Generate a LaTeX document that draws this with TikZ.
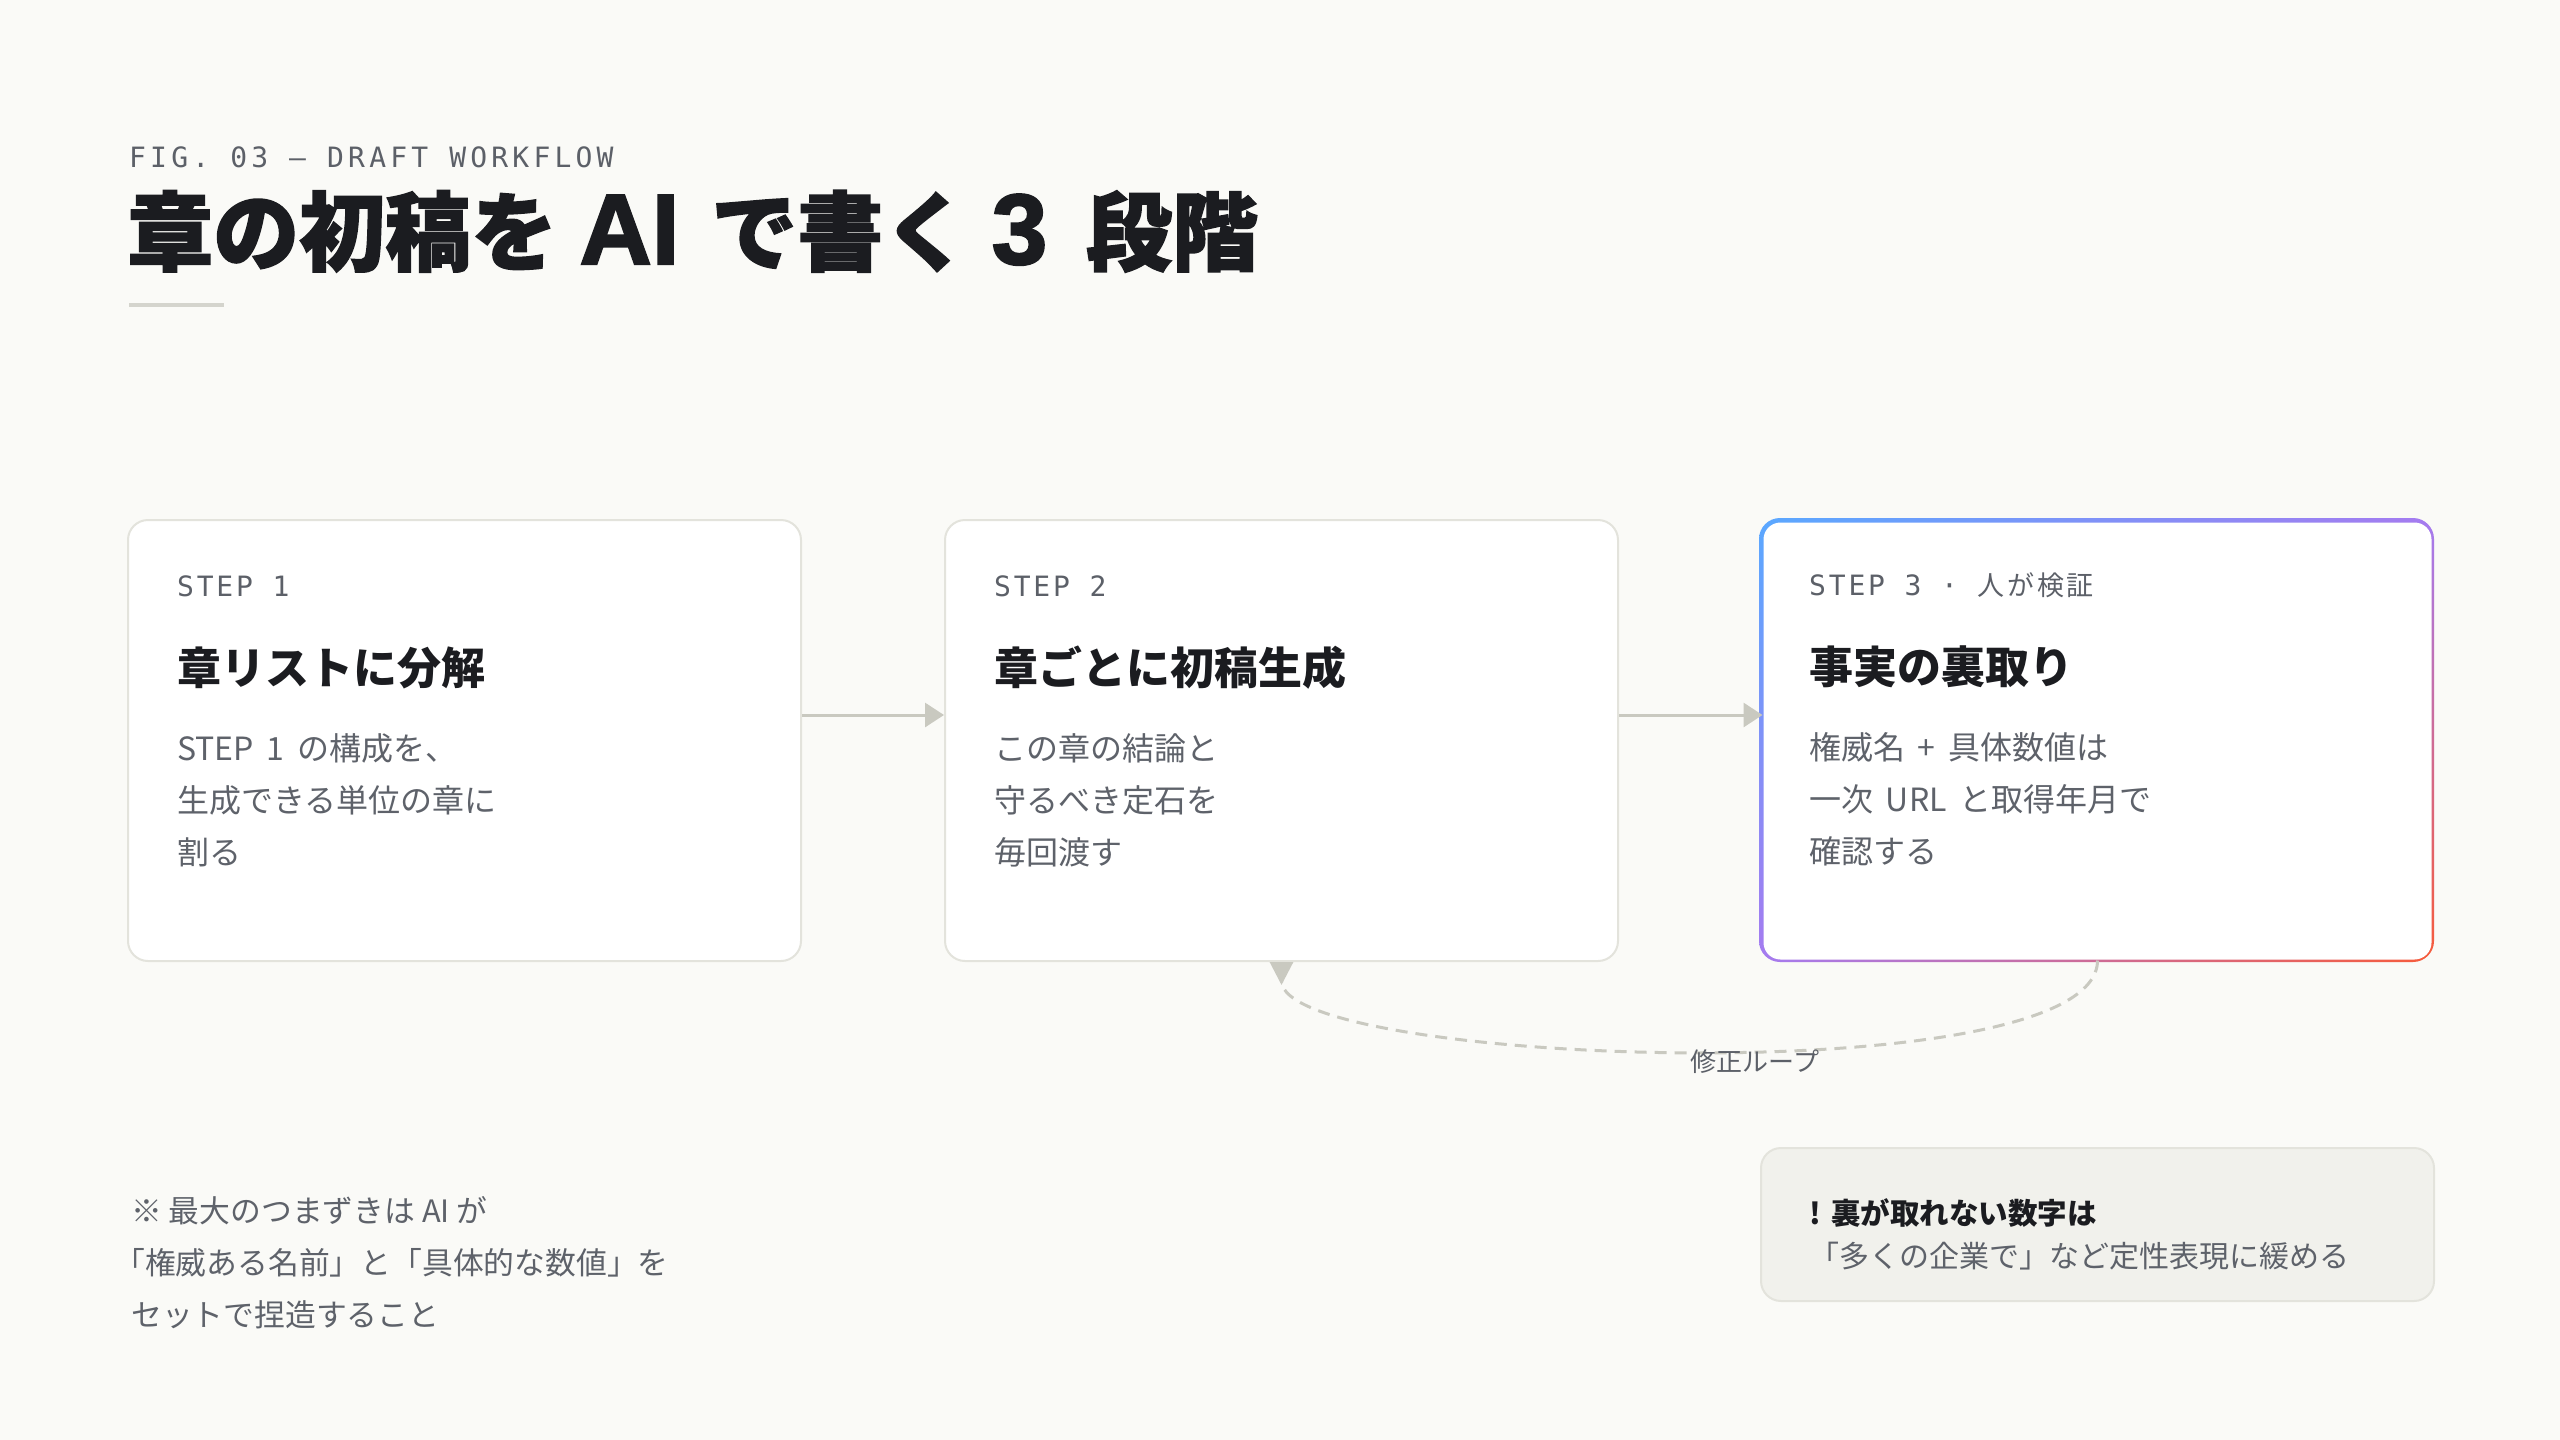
\documentclass[tikz,border=0pt]{standalone}
\usepackage{fontspec}
\setmainfont{Noto Sans CJK JP}
\newfontfamily\jp{Noto Sans CJK JP}
\newfontfamily\jpheavy{Noto Sans CJK JP}[BoldFeatures={FakeBold=1.7}]
\newfontfamily\latheavy{Liberation Sans}[BoldFeatures={FakeBold=2.2}]
\newfontfamily\jpls{Noto Sans CJK JP}[LetterSpace=10]
\newfontfamily\monofnt{DejaVu Sans Mono}[LetterSpace=10]
\newfontfamily\monofig{DejaVu Sans Mono}[LetterSpace=15]
\newcommand\wgap{\hspace{0.4em}}
\newcommand\titlelat[1]{{\latheavy\bfseries\fontsize{100}{100}\selectfont #1}}
\usetikzlibrary{arrows.meta,calc,shadings}
\definecolor{bg}{HTML}{FAFAF7}
\definecolor{ink}{HTML}{1B1C20}
\definecolor{mute}{HTML}{5E626A}
\definecolor{lbl}{HTML}{5C6068}
\definecolor{edge}{HTML}{E3E3DC}
\definecolor{flowc}{HTML}{C9C9C0}
\definecolor{warnbg}{HTML}{F1F1EC}
\definecolor{gblue}{HTML}{5AA8FF}
\definecolor{gpurp}{HTML}{A57BF0}
\definecolor{gred}{HTML}{F75B3A}
\tikzset{
  stepbox/.style={draw=edge, line width=2pt, fill=white, rounded corners=20pt,
    minimum width=673pt, minimum height=441pt, anchor=north west, inner sep=0pt},
  steplbl/.style={anchor=west, inner sep=0pt, text=lbl, font={\monofnt\fontsize{28}{34}\selectfont}},
  steptitle/.style={anchor=west, inner sep=0pt, text=ink, font={\jp\bfseries\fontsize{44}{52}\selectfont}},
  stepbody/.style={anchor=west, inner sep=0pt, text=mute, font={\jp\fontsize{32}{52}\selectfont}},
  notetxt/.style={anchor=west, inner sep=0pt, text=mute, font={\jp\fontsize{30.8}{52}\selectfont}},
  flow/.style={draw=flowc, line width=3pt, -{Triangle[length=19pt,width=24pt]}},
  loopline/.style={draw=flowc, line width=3pt, dash pattern=on 12pt off 8pt,
    -{Triangle[reversed,length=23pt,width=23pt]}},
}
\begin{document}
\begin{tikzpicture}[x=1pt,y=-1pt]
\useasboundingbox (0,0) rectangle (2560,1440);
\fill[bg] (0,0) rectangle (2560,1440);

% header
\node[anchor=west, inner sep=0pt, text=lbl, font={\monofig\fontsize{28}{34}\selectfont}] (fig) at (129,157) {FIG. 03 — DRAFT WORKFLOW};
\node[anchor=base west, inner sep=0pt, text=ink, font={\jpheavy\bfseries\fontsize{86}{100}\selectfont}] (title) at (127,264)
  {章の初稿を\hspace{0.26em}\titlelat{AI}\hspace{0.37em}で書く\hspace{0.26em}\titlelat{3}\hspace{0.45em}段階};
\fill[flowc!80] (129,303) rectangle (224,307);

% step boxes
\node[stepbox] (s1) at (127,519) {};
\node[stepbox] (s2) at (944,519) {};
\shade[rounded corners=21pt, upper left=gblue, upper right=gpurp, lower left=gpurp, lower right=gred]
  (1759,518) rectangle (2434,962);
\node[stepbox, draw=none, rounded corners=17pt, minimum width=668pt, minimum height=437pt] (s3) at (1762.5,521.5) {};

% step 1 texts
\node[steplbl] (s1k) at ($(s1.north west)+(50,67)$) {STEP 1};
\node[steptitle] (s1t) at ($(s1.north west)+(50,149)$) {章リストに分解};
\node[stepbody] (s1a) at ($(s1.north west)+(50,229)$) {STEP\wgap 1\wgap の構成を、};
\node[stepbody] (s1b) at ($(s1.north west)+(50,281)$) {生成できる単位の章に};
\node[stepbody] (s1c) at ($(s1.north west)+(50,333)$) {割る};

% step 2 texts
\node[steplbl] (s2k) at ($(s2.north west)+(50,67)$) {STEP 2};
\node[steptitle] (s2t) at ($(s2.north west)+(50,149)$) {章ごとに初稿生成};
\node[stepbody] (s2a) at ($(s2.north west)+(50,229)$) {この章の結論と};
\node[stepbody] (s2b) at ($(s2.north west)+(50,281)$) {守るべき定石を};
\node[stepbody] (s2c) at ($(s2.north west)+(50,333)$) {毎回渡す};

% step 3 texts
\node[steplbl] (s3k) at ($(s3.north west)+(46.5,63.5)$) {STEP 3 · {\jpls\fontsize{27}{34}\selectfont 人が検証}};
\node[steptitle] (s3t) at ($(s3.north west)+(46.5,145.5)$) {事実の裏取り};
\node[stepbody] (s3a) at ($(s3.north west)+(46.5,225.5)$) {権威名\wgap +\wgap 具体数値は};
\node[stepbody] (s3b) at ($(s3.north west)+(46.5,277.5)$) {一次\wgap URL\wgap と取得年月で};
\node[stepbody] (s3c) at ($(s3.north west)+(46.5,329.5)$) {確認する};

% connectors
\draw[flow] (s1.east |- 0,715) -- (s2.west |- 0,715);
\draw[flow] (s2.east |- 0,715) -- (s3.west |- 0,715);
\draw[loopline] (s3.south) .. controls +(0,134) and +(0,104) .. (s2.south);
\node[anchor=center, inner sep=0pt, text=lbl, font={\jp\fontsize{26}{30}\selectfont}] (looplbl) at (1755,1062) {修正ループ};

% bottom note
\node[notetxt] (n1) at (131,1211) {※ 最大のつまずきは AI が};
\node[notetxt] (n2) at (131,1263) {\hspace*{-0.55em}「権威ある名前」と「具体的な数値」を};
\node[notetxt] (n3) at (131,1315) {セットで捏造すること};

% warning box
\node[draw=edge, line width=2pt, fill=warnbg, rounded corners=20pt, minimum width=673pt,
  minimum height=153pt, anchor=north west, inner sep=0pt] (warn) at (1760,1147) {};
\node[anchor=west, inner sep=0pt, text=ink, font={\jp\bfseries\fontsize{29.5}{36}\selectfont}] (w1)
  at ($(warn.north west)+(49,66)$) {!\hspace{0.35em}裏が取れない数字は};
\node[notetxt, font={\jp\fontsize{30}{52}\selectfont}] (w2) at ($(warn.north west)+(49,109)$) {「多くの企業で」など定性表現に緩める};
\end{tikzpicture}
\end{document}
